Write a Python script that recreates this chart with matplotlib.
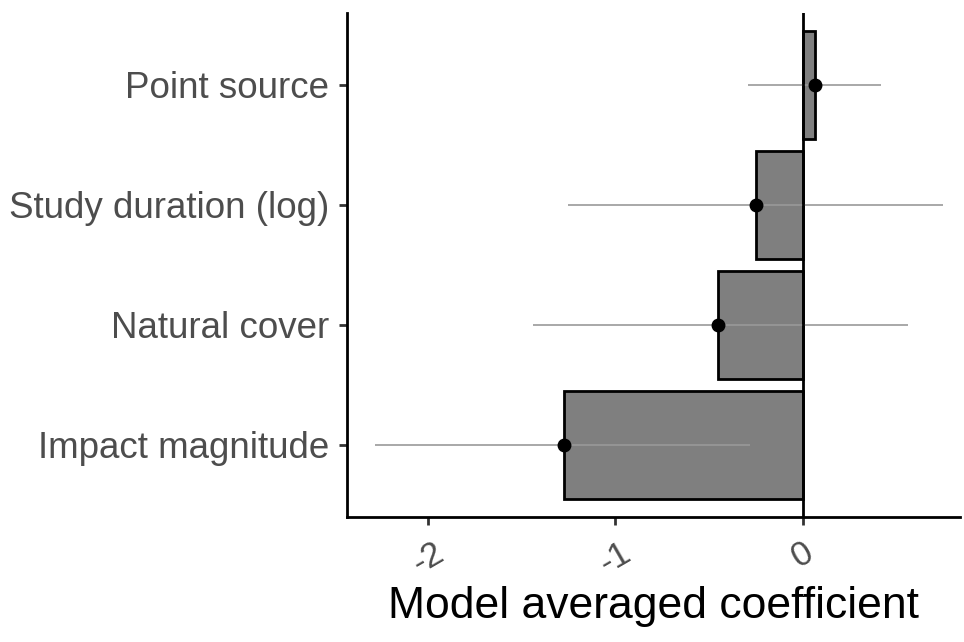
import matplotlib.pyplot as plt

plt.rcParams['font.family'] = ['Liberation Sans', 'DejaVu Sans']

labels = ["Impact magnitude", "Natural cover", "Study duration (log)", "Point source"]
coef = [-1.275, -0.45, -0.25, 0.064]
lower = [-2.28, -1.44, -1.25, -0.29]
upper = [-0.28, 0.56, 0.75, 0.42]

fig = plt.figure(figsize=(9.64, 6.42), dpi=100)
ax = fig.add_axes([0.36, 0.195, 0.636, 0.785])
pos = list(range(1, len(labels) + 1))

ax.barh(pos, coef, height=0.9, color="#7f7f7f", edgecolor="black", linewidth=2, zorder=2)
ax.hlines(pos, lower, upper, color="#999999", linewidth=1.2, zorder=3)
ax.plot(coef, pos, "o", color="black", markersize=9, zorder=4)
ax.axvline(0, color="black", linewidth=2, zorder=3)

ax.set_xlim(-2.43, 0.84)
ax.set_ylim(0.4, 4.6)
ax.set_yticks(pos)
ax.set_yticklabels(labels)
ax.set_xticks([-2, -1, 0])
ax.set_xticklabels(["-2", "-1", "0"], rotation=30, ha="center", va="top")
ax.tick_params(axis="y", labelsize=26.5, pad=7)
ax.tick_params(axis="x", labelsize=25, pad=8)
ax.tick_params(axis="both", labelcolor="#4d4d4d", color="#333333", width=2, length=6)
ax.set_xlabel("Model averaged coefficient", fontsize=32, labelpad=4)
for s in ["top", "right"]:
    ax.spines[s].set_visible(False)
for s in ["left", "bottom"]:
    ax.spines[s].set_linewidth(2)

fig.savefig("out.png", dpi=100)
